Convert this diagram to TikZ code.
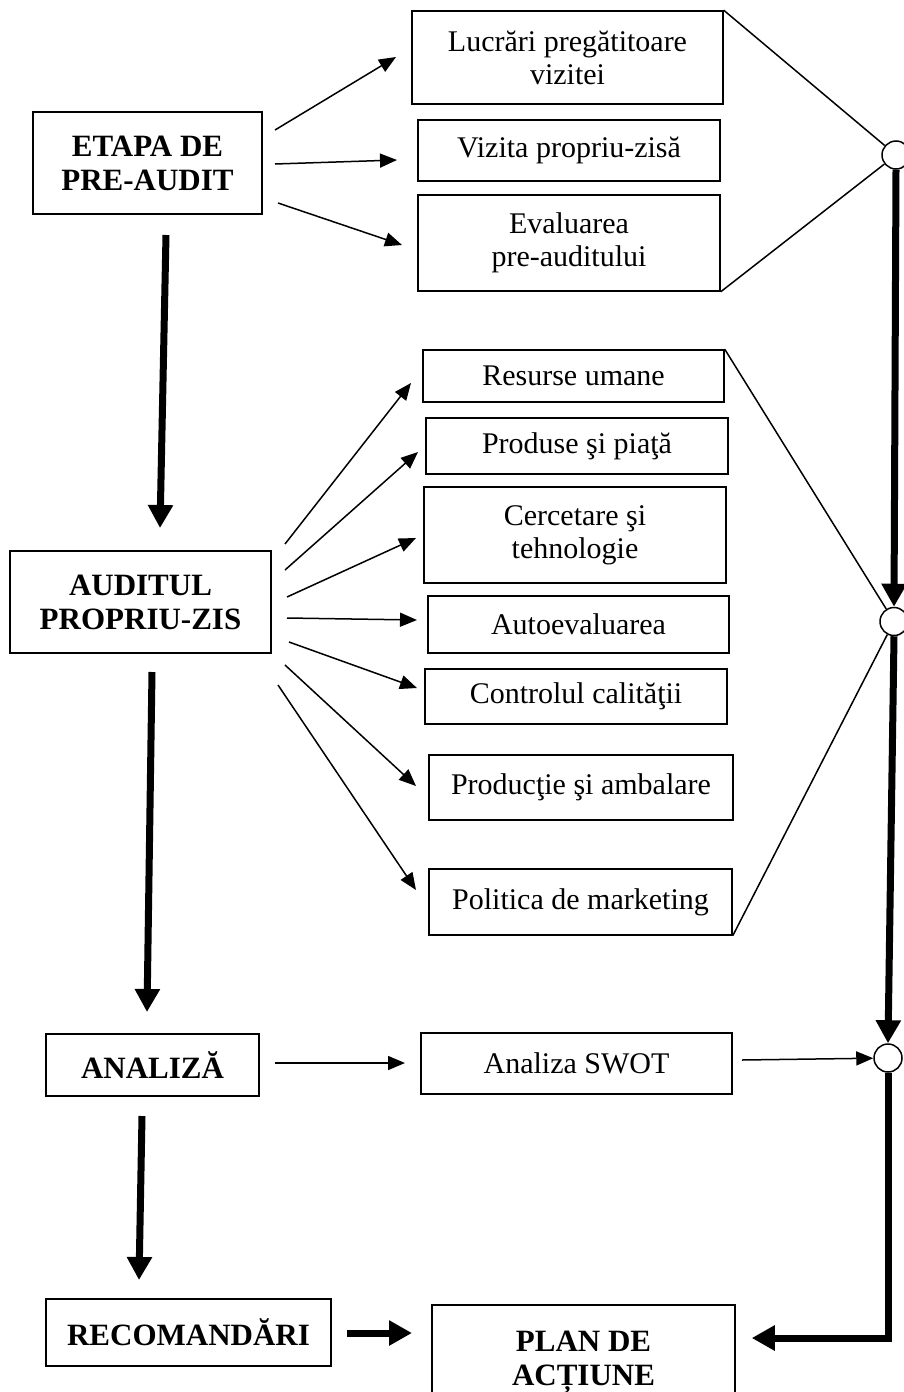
\documentclass[tikz,border=0pt]{standalone}
\usepackage{fontspec}
\setmainfont{Liberation Serif}
\usetikzlibrary{arrows.meta}

\begin{document}
\begin{tikzpicture}[x=1pt,y=-1pt,
  box/.style={draw, line width=1.5pt, align=center, inner sep=0pt,
    font=\fontsize{30}{33}\selectfont},
  stage/.style={box, font=\fontsize{31}{34}\selectfont\bfseries},
  junction/.style={draw, line width=1.5pt, circle, fill=white, minimum size=28pt, inner sep=0pt},
  link/.style={line width=1.5pt},
  flow/.style={line width=1.5pt, -{Triangle[width=14pt,length=17pt]}},
  mainflow/.style={line width=7pt, -{Triangle[width=24pt,length=23pt]}}
]
\useasboundingbox (0,0) rectangle (903,1392);

% ---- main stages (left column)
\node[stage, minimum width=229pt, minimum height=102pt] (etapa)  at (147.5,163)  {ETAPA DE\\PRE-AUDIT};
\node[stage, minimum width=261pt, minimum height=102pt] (audit)  at (140.5,602)  {AUDITUL\\PROPRIU-ZIS};
\node[stage, minimum width=213pt, minimum height=62pt]  (analiza) at (152.5,1065) {ANALIZĂ};
\node[stage, minimum width=285pt, minimum height=67pt]  (recom)  at (188.5,1332.5) {RECOMANDĂRI};
\node[stage, minimum width=303pt, minimum height=114pt] (plan)   at (583.5,1362) {PLAN DE\\ACȚIUNE};

% ---- pre-audit steps
\node[box, minimum width=311pt, minimum height=93pt] (lucr)   at (567.5,57.5) {Lucrări pregătitoare\\vizitei};
\node[box, minimum width=302pt, minimum height=61pt] (vizita) at (569,150.5)  {Vizita propriu-zisă};
\node[box, minimum width=302pt, minimum height=96pt] (evalu)  at (569,243)    {Evaluarea\\pre-auditului};

% ---- audit domains
\node[box, minimum width=301pt, minimum height=52pt] (resurse)   at (573.5,376)   {Resurse umane};
\node[box, minimum width=302pt, minimum height=56pt] (produse)   at (577,446)     {Produse şi piaţă};
\node[box, minimum width=302pt, minimum height=96pt] (cercet)    at (575,535)     {Cercetare şi\\tehnologie};
\node[box, minimum width=301pt, minimum height=57pt] (autoev)    at (578.5,624.5) {Autoevaluarea};
\node[box, minimum width=302pt, minimum height=55pt] (control)   at (576,696.5)   {Controlul calităţii};
\node[box, minimum width=304pt, minimum height=65pt] (productie) at (581,787.5)   {Producţie şi ambalare};
\node[box, minimum width=303pt, minimum height=66pt] (politica)  at (580.5,902)   {Politica de marketing};

% ---- analysis
\node[box, minimum width=311pt, minimum height=61pt] (swot) at (576.5,1063.5) {Analiza SWOT};

% ---- junctions
\node[junction] (c1) at (896,155) {};
\node[junction] (c2) at (894,621.5) {};
\node[junction] (c3) at (888,1058) {};

% ---- free ends of the fan-out arrows
\coordinate (e0) at (275,130);  \coordinate (e1) at (396,57);
\coordinate (v0) at (275,164);  \coordinate (v1) at (397,160);
\coordinate (u0) at (278,203);  \coordinate (u1) at (402,245);

\coordinate (r0) at (285,544);  \coordinate (r1) at (411,383);
\coordinate (p0) at (285,570);  \coordinate (p1) at (418,452);
\coordinate (t0) at (287,597);  \coordinate (t1) at (416,538);
\coordinate (a0) at (287,618);  \coordinate (a1) at (417,620);
\coordinate (k0) at (289,642);  \coordinate (k1) at (417,688);
\coordinate (m0) at (285,665);  \coordinate (m1) at (416,786);
\coordinate (g0) at (278,685);  \coordinate (g1) at (416,890);

\coordinate (s0) at (275,1063); \coordinate (s1) at (405,1063);
\coordinate (w0) at (742,1060);

% ---- free ends of the main flow
\coordinate (f0) at (166,235);  \coordinate (f1) at (160,528);
\coordinate (g2) at (152,672);  \coordinate (g3) at (147,1012);
\coordinate (h0) at (142,1116); \coordinate (h1) at (139,1280);
\coordinate (q0) at (347,1333); \coordinate (q1) at (412,1333);
\coordinate (corner) at (888,1338);

% pre-audit fan-out
\draw[flow] (e0) -- (e1);
\draw[flow] (v0) -- (v1);
\draw[flow] (u0) -- (u1);

% audit fan-out
\draw[flow] (r0) -- (r1);
\draw[flow] (p0) -- (p1);
\draw[flow] (t0) -- (t1);
\draw[flow] (a0) -- (a1);
\draw[flow] (k0) -- (k1);
\draw[flow] (m0) -- (m1);
\draw[flow] (g0) -- (g1);

% analysis
\draw[flow] (s0) -- (s1);
\draw[flow] (w0) -- (c3);

% gathering lines into the junctions
\draw[link] (lucr.north east) -- (c1);
\draw[link] (evalu.south east) -- (c1);
\draw[link] (resurse.north east) -- (c2);
\draw[link] (politica.south east) -- (c2);

% main flow, left column
\draw[mainflow] (f0) -- (f1);
\draw[mainflow] (g2) -- (g3);
\draw[mainflow] (h0) -- (h1);
\draw[mainflow] (q0) -- (q1);

% main flow, right column
\draw[mainflow] (c1.south) -- (c2.north);
\draw[mainflow] (c2.south) -- (c3.north);
\draw[mainflow] (c3.south) -- (corner) -- (plan.east |- corner) [shorten >=16pt];
\end{tikzpicture}
\end{document}
